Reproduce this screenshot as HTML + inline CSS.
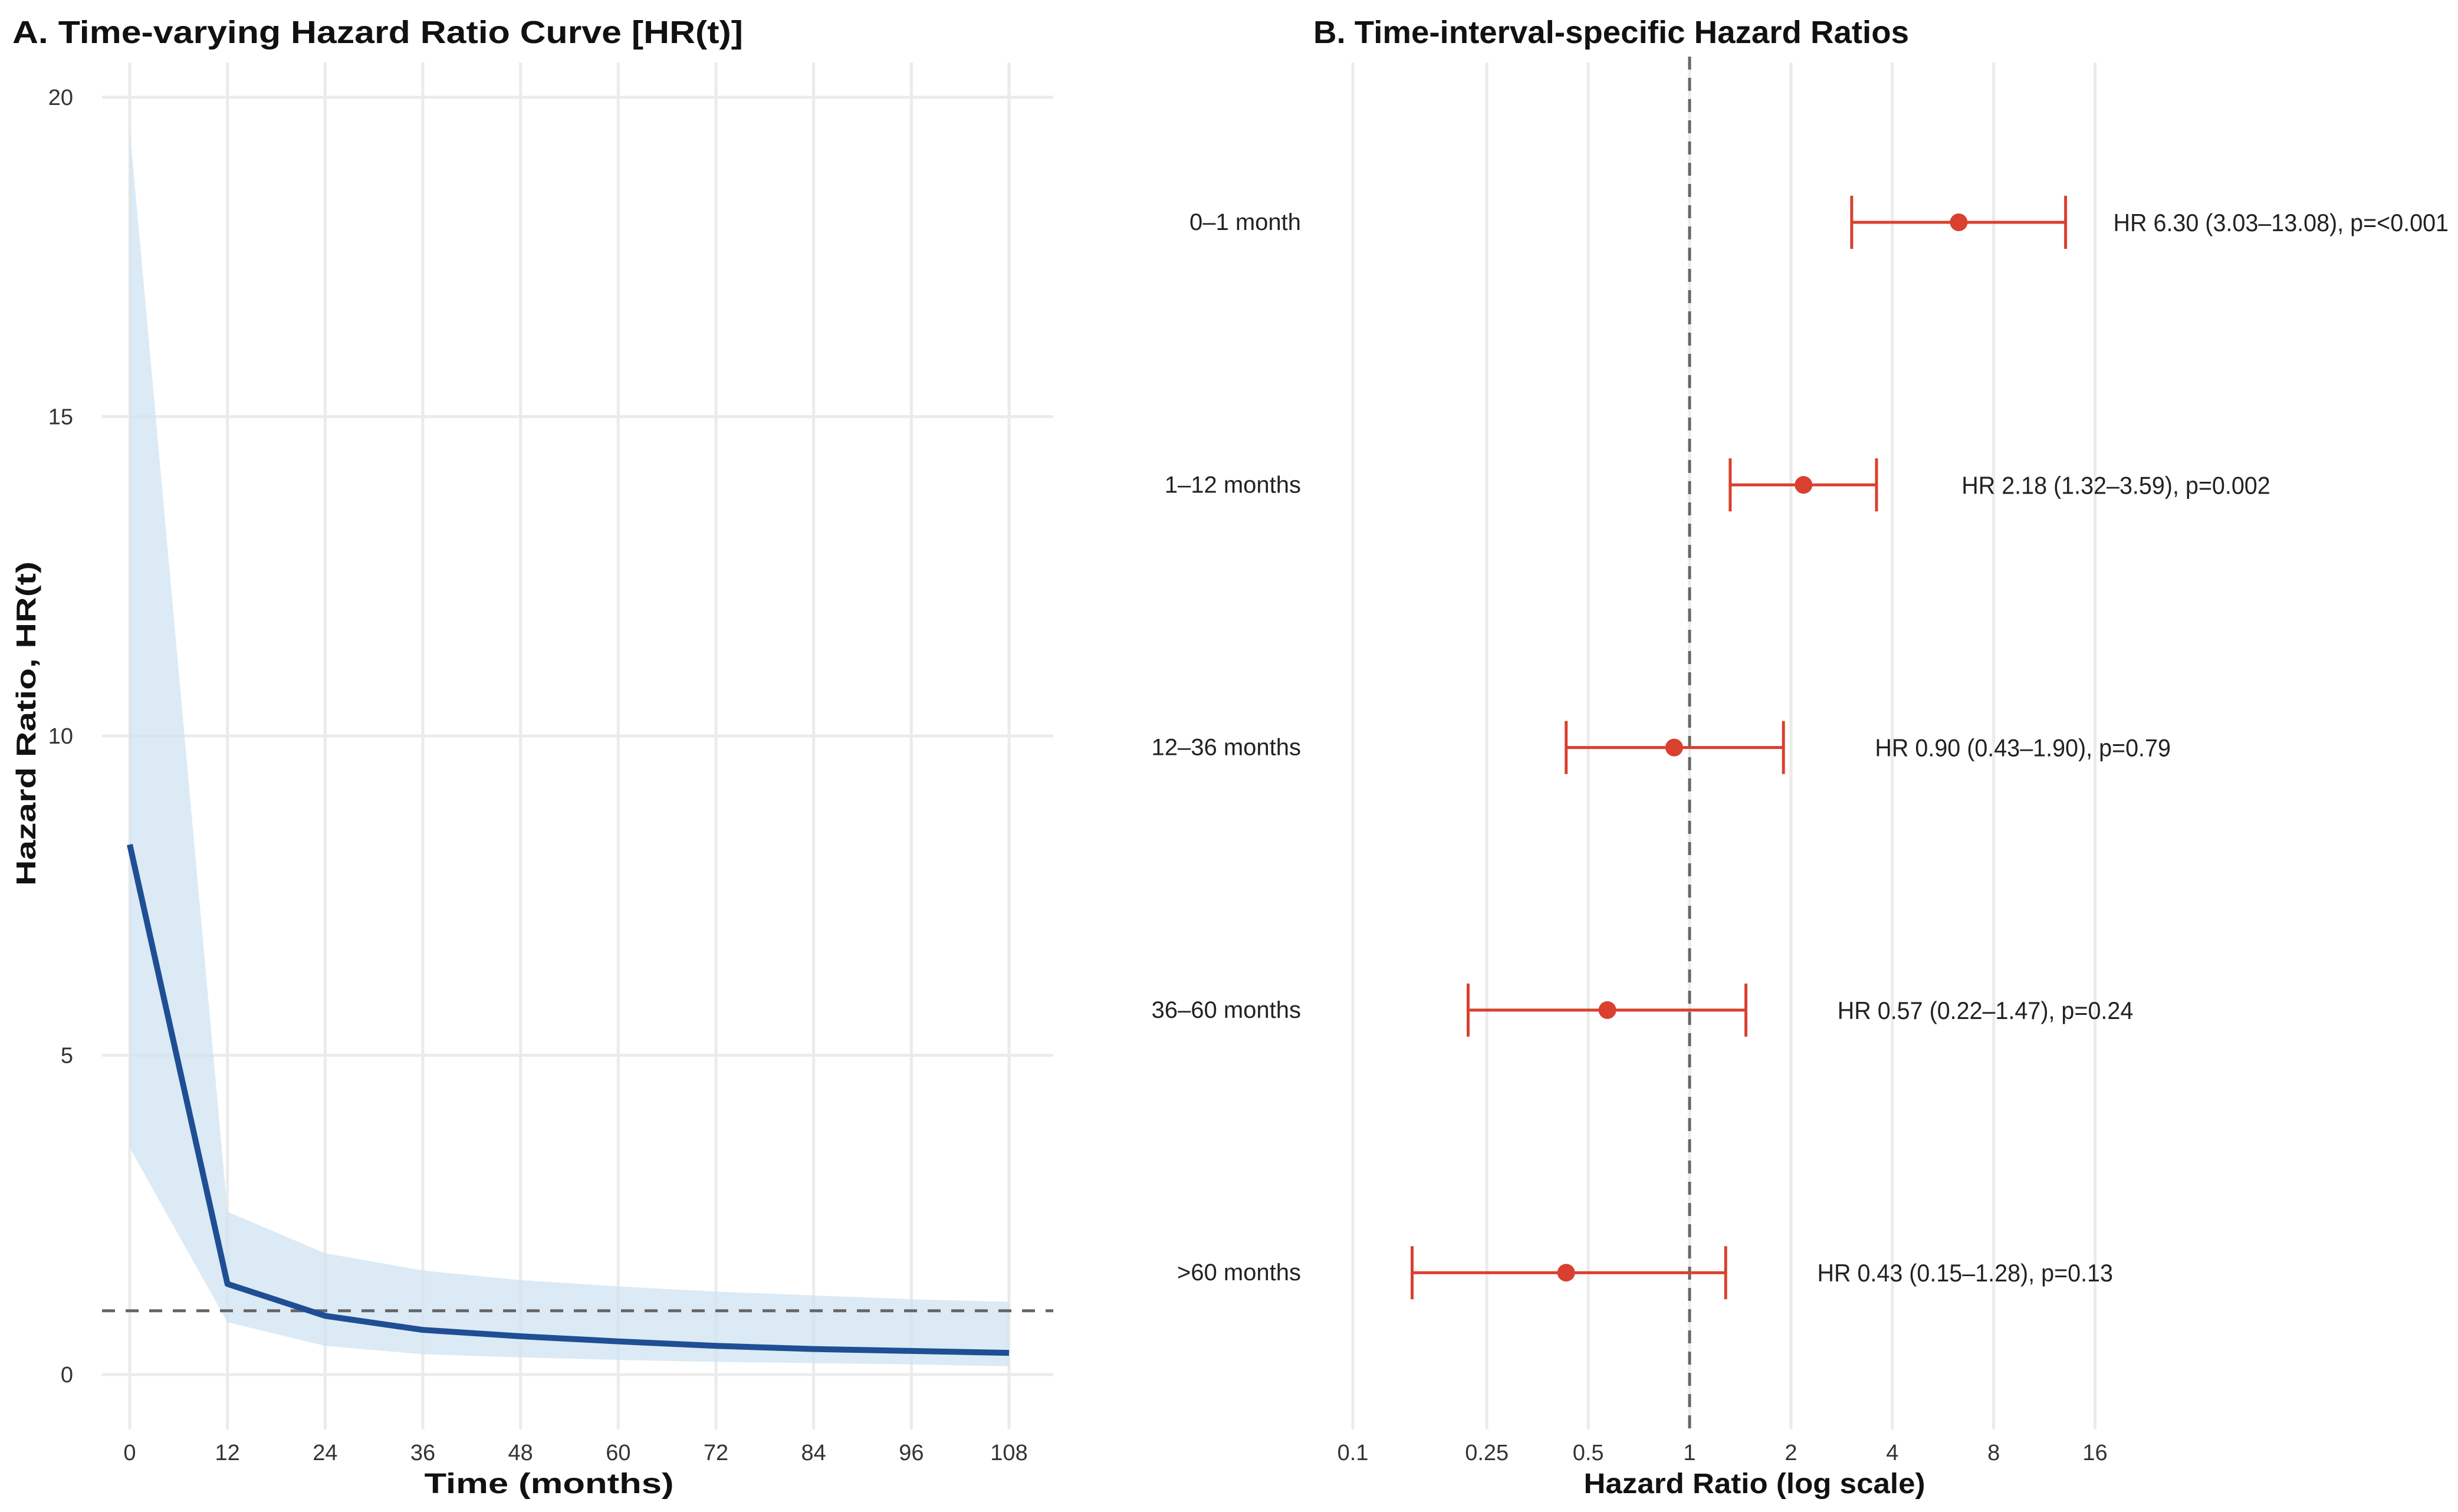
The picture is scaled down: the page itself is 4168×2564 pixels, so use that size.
<!DOCTYPE html>
<html><head><meta charset="utf-8"><title>Hazard ratio charts</title>
<style>html,body{margin:0;padding:0;background:#fff}svg{display:block}text{font-family:"Liberation Sans",Arial,sans-serif}</style>
</head><body>
<svg id="chart" xmlns="http://www.w3.org/2000/svg" width="4168" height="2564" viewBox="0 0 4168 2564">
<rect width="4168" height="2564" fill="#fff"/>
<g id="panelA"></g>
<g id="panelB"></g>
</svg>
<script>
// Panel A data
const timeMonths = [0, 12, 24, 36, 48, 60, 72, 84, 96, 108];
const hrValues   = [8.3, 1.42, 0.92, 0.70, 0.60, 0.52, 0.45, 0.40, 0.37, 0.34];
const hrLower    = [3.55, 0.82, 0.45, 0.32, 0.27, 0.23, 0.20, 0.18, 0.16, 0.13];
const hrUpper    = [19.5, 2.55, 1.90, 1.63, 1.48, 1.38, 1.30, 1.24, 1.18, 1.14];
const xTicksA    = [0, 12, 24, 36, 48, 60, 72, 84, 96, 108];
const yTicksA    = [0, 5, 10, 15, 20];
// Panel B data
const intervals  = ["0\u20131 month", "1\u201312 months", "12\u201336 months", "36\u201360 months", ">60 months"];
const intervalHR = [6.30, 2.18, 0.90, 0.57, 0.43];
const intervalLo = [3.03, 1.32, 0.43, 0.22, 0.15];
const intervalHi = [13.08, 3.59, 1.90, 1.47, 1.28];
const intervalP  = ["<0.001", "0.002", "0.79", "0.24", "0.13"];
const xTicksB    = [0.1, 0.25, 0.5, 1, 2, 4, 8, 16];
const xTickLabB  = ["0.1", "0.25", "0.5", "1", "2", "4", "8", "16"];

const NS = "http://www.w3.org/2000/svg";
function mk(parent, tag, attrs, txt) {
  const e = document.createElementNS(NS, tag);
  for (const k in attrs) e.setAttribute(k, attrs[k]);
  if (txt !== undefined) e.textContent = txt;
  parent.appendChild(e);
  return e;
}
const A = document.getElementById('panelA');
const B = document.getElementById('panelB');
const grid = "#ebebeb";

// ---- Panel A scales
const xA = t => 220 + (t - 0) * (1711 - 220) / 108;
const yA = v => 2331 - v * 108.3;
const aLeft = 173, aRight = 1786, aTop = 106, aBot = 2424;

for (const v of yTicksA) {
  const l = mk(A, 'line', {x1: aLeft, x2: aRight, y1: yA(v), y2: yA(v), stroke: grid, 'stroke-width': 5});
  
  
  const t = mk(A, 'text', {x: 124, y: yA(v) + 13, 'text-anchor': 'end', 'font-size': 38, fill: '#333'}, String(v));
  
  
}
for (const v of xTicksA) {
  const l = mk(A, 'line', {x1: xA(v), x2: xA(v), y1: aTop, y2: aBot, stroke: grid, 'stroke-width': 5});
  
  
  const t = mk(A, 'text', {x: xA(v), y: 2476, 'text-anchor': 'middle', 'font-size': 38, fill: '#333'}, String(v));
  
  
}
// ribbon
let pts = timeMonths.map((t, i) => xA(t) + ',' + yA(hrUpper[i]));
pts = pts.concat(timeMonths.map((t, i) => xA(t) + ',' + yA(hrLower[i])).reverse());
const rib = mk(A, 'polygon', {points: pts.join(' '), fill: '#cfe3f0', 'fill-opacity': 0.75});


// reference line
const refA = mk(A, 'line', {x1: aLeft, x2: aRight, y1: yA(1), y2: yA(1), stroke: '#666', 'stroke-width': 5, 'stroke-dasharray': '22 18'});


// curve
const curve = mk(A, 'polyline', {points: timeMonths.map((t, i) => xA(t) + ',' + yA(hrValues[i])).join(' '), fill: 'none', stroke: '#1f4e94', 'stroke-width': 10, 'stroke-linejoin': 'round'});


// titles
const tA = mk(A, 'text', {x: 21, y: 73, 'font-size': 54, 'font-weight': 'bold', fill: '#111', textLength: 1239, lengthAdjust: 'spacingAndGlyphs'}, 'A. Time-varying Hazard Ratio Curve [HR(t)]');


const xtA = mk(A, 'text', {x: 931, y: 2532, 'text-anchor': 'middle', 'font-size': 48, 'font-weight': 'bold', fill: '#111', textLength: 423, lengthAdjust: 'spacingAndGlyphs'}, 'Time (months)');


const ytA = mk(A, 'text', {x: 0, y: 0, 'text-anchor': 'middle', 'font-size': 46, 'font-weight': 'bold', fill: '#111', textLength: 550, lengthAdjust: 'spacingAndGlyphs', transform: 'translate(60,1227) rotate(-90)'}, 'Hazard Ratio, HR(t)');



// ---- Panel B scales
const xB = v => 2865 + 571 * Math.log10(v);
const rowY = i => 377 + i * 445.3;
const bTop = 106, bBot = 2424;
for (let i = 0; i < xTicksB.length; i++) {
  const v = xTicksB[i];
  const l = mk(B, 'line', {x1: xB(v), x2: xB(v), y1: bTop, y2: bBot, stroke: grid, 'stroke-width': 5});
  
  
  const t = mk(B, 'text', {x: xB(v), y: 2476, 'text-anchor': 'middle', 'font-size': 38, fill: '#333'}, xTickLabB[i]);
  
  
}
const refB = mk(B, 'line', {x1: xB(1), x2: xB(1), y1: bTop - 10, y2: bBot, stroke: '#666', 'stroke-width': 5, 'stroke-dasharray': '22 14'});


const red = '#d9402f';
for (let i = 0; i < intervals.length; i++) {
  const y = rowY(i);
  const lab = mk(B, 'text', {x: 2206, y: y + 13, 'text-anchor': 'end', 'font-size': 40, fill: '#222'}, intervals[i]);
  
  
  const g = mk(B, 'g', {});
  
  
  mk(g, 'line', {x1: xB(intervalLo[i]), x2: xB(intervalHi[i]), y1: y, y2: y, stroke: red, 'stroke-width': 5});
  mk(g, 'line', {x1: xB(intervalLo[i]), x2: xB(intervalLo[i]), y1: y - 45, y2: y + 45, stroke: red, 'stroke-width': 5});
  mk(g, 'line', {x1: xB(intervalHi[i]), x2: xB(intervalHi[i]), y1: y - 45, y2: y + 45, stroke: red, 'stroke-width': 5});
  mk(g, 'circle', {cx: xB(intervalHR[i]), cy: y, r: 15, fill: red});
  const s = 'HR ' + intervalHR[i].toFixed(2) + ' (' + intervalLo[i].toFixed(2) + '\u2013' + intervalHi[i].toFixed(2) + '), p=' + intervalP[i];
  const t = mk(B, 'text', {x: 0, y: y + 15, 'font-size': 42, fill: '#222'}, s);
  
  
  const w = t.getComputedTextLength() * 0.94;
  t.setAttribute('textLength', w);
  t.setAttribute('lengthAdjust', 'spacingAndGlyphs');
  let x0 = xB(intervalHi[i]) + 406 - w / 2;
  if (x0 + w > 4152) x0 = 4152 - w;
  t.setAttribute('x', x0);
}
const tB = mk(B, 'text', {x: 2227, y: 73, 'font-size': 54, 'font-weight': 'bold', fill: '#111', textLength: 1010, lengthAdjust: 'spacingAndGlyphs'}, 'B. Time-interval-specific Hazard Ratios');


const xtB = mk(B, 'text', {x: 2975, y: 2532, 'text-anchor': 'middle', 'font-size': 48, 'font-weight': 'bold', fill: '#111', textLength: 579, lengthAdjust: 'spacingAndGlyphs'}, 'Hazard Ratio (log scale)');


</script>
</body></html>
